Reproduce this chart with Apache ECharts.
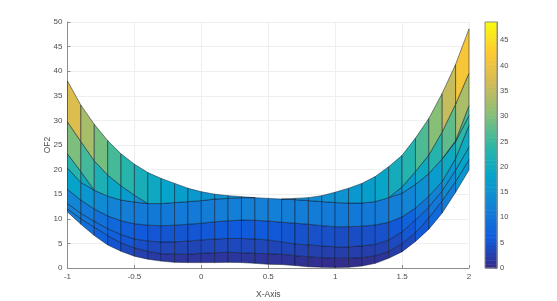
<!DOCTYPE html>
<html><head><meta charset="utf-8">
<style>html,body{margin:0;padding:0;background:#fff}#c{width:557px;height:301px}</style>
<script src="https://cdn.jsdelivr.net/npm/echarts@6/dist/echarts.min.js"></script>
</head><body><div id="c"></div>
<script>
const xValues = [-1,-0.9,-0.8,-0.7,-0.6,-0.5,-0.4,-0.3,-0.2,-0.1,0,0.1,0.2,0.3,0.4,0.5,0.6,0.7,0.8,0.9,1,1.1,1.2,1.3,1.4,1.5,1.6,1.7,1.8,1.9,2];
const row0 = [11.4,8.9,6.6,4.7,3.4,2.4,1.8,1.4,1.15,1.1, 1.1,1.1,1.15,1.1,0.95,0.75,0.7,0.5,0.25,0.15, 0.1,0.15,0.4,0.95,2,3.3,5.4,7.9,11.2,15.4,19.9];
const row1 = [12,10,8.3,6.6,5.1,4.1,3.4,2.9,2.8,2.8, 3,3.1,3.2,3.1,3,2.9,2.8,2.5,2.3,2.1, 2,2,2.1,2.5,3.4,5,7.2,10.2,13.7,17.6,22];
const row2 = [13.1,11.1,9.5,8,6.8,5.9,5.5,5.3,5.3,5.5, 5.7,5.9,6,6,5.9,5.7,5.3,4.9,4.7,4.5, 4.3,4.3,4.5,4.8,5.7,7.4,9.8,12.4,15.7,19.9,24.6];
const row3 = [16,13.8,12,10.6,9.6,9,8.7,8.6,8.7,8.9, 9.1,9.4,9.6,9.75,9.7,9.55,9.3,9.1,8.9,8.6, 8.4,8.4,8.5,8.75,9.3,10.4,12.2,14.6,17.6,22.3,29];
const row4 = [20.3,17.4,15.8,14.6,13.8,13.4,13.1,13.1,13.3,13.5, 13.7,14,14.15,14.3,14.3,14.15,14,13.9,13.7,13.5, 13.3,13.2,13.2,13.5,14.3,15.2,17,19.2,22.2,25.7,31];
const row5 = [23.2,19.6,15.8,14.6,13.8,13.4,13.1,13.1,13.3,13.5, 13.7,14,14.15,14.3,14.3,14.15,14,13.9,13.7,13.5, 13.3,13.2,13.2,13.5,14.3,15.2,17,19.2,22.2,25.9,33];
const row6 = [29.7,25.7,21.8,18.9,16.7,14.8,13.1,13.1,13.3,13.5, 13.7,14,14.15,14.3,14.3,14.15,14,13.9,13.7,13.5, 13.3,13.2,13.2,13.5,14.3,16.5,19.6,23,27.7,33.3,39.6];
const row7 = [38,33.1,29.2,25.9,23.2,21.1,19.4,18.2,17.2,16.2, 15.5,15,14.7,14.5,14.3,14.15,14,14.15,14.3,14.7, 15.4,16.2,17.2,18.6,20.6,22.9,26.4,30.4,35.5,41.4,48.6];
const rows = [row0,row1,row2,row3,row4,row5,row6,row7];
const colorMax = 48.6;
const parula = ['#352a87','#0f5cdd','#1481d6','#06a4ca','#2eb7a4','#87bf77','#d1bb59','#fec832','#f9fb0e'];
const bandWeight = [0.2,0.2,0,0.5,1,1,1];

function hex(c){return [1,3,5].map(i=>parseInt(c.substr(i,2),16));}
function colorOf(v){
  const t=Math.max(0,Math.min(1,v/colorMax))*(parula.length-1);
  const i=Math.min(parula.length-2,Math.floor(t)),f=t-i;
  const a=hex(parula[i]),b=hex(parula[i+1]);
  return 'rgb('+a.map((p,k)=>Math.round(p+(b[k]-p)*f)).join(',')+')';
}
const cells=[];
for(let r=0;r<rows.length-1;r++)for(let i=0;i<xValues.length-1;i++){
  if(rows[r][i]===rows[r+1][i]&&rows[r][i+1]===rows[r+1][i+1])continue;
  cells.push([i,r]);
}
const levels=64, barCells=[];
for(let k=0;k<levels;k++)barCells.push([k]);
const font='"Liberation Sans",Arial,sans-serif', txt='#4d4d4d', axisC='#8c8c8c', gridC='#efefef';

const chart=echarts.init(document.getElementById('c'),null,{renderer:'canvas'});
chart.setOption({
  animation:false,
  grid:[{left:67.5,top:22,width:401.5,height:246,show:false,outerBoundsMode:'none'},{left:485,top:22,width:12,height:246,show:false,outerBoundsMode:'none'}],
  xAxis:[{type:'value',gridIndex:0,min:-1,max:2,interval:0.5,name:'X-Axis',nameLocation:'middle',nameGap:22,nameMoveOverlap:false,
      nameTextStyle:{color:txt,fontFamily:font,fontSize:8.5},
      axisLine:{onZero:false,lineStyle:{color:axisC,width:1}},axisTick:{inside:true,length:3,lineStyle:{color:axisC}},
      axisLabel:{color:txt,fontFamily:font,fontSize:8,margin:5,formatter:v=>String(v),hideOverlap:false,showMinLabel:true,showMaxLabel:true},
      splitLine:{show:true,lineStyle:{color:gridC,width:1}}},
    {type:'value',gridIndex:1,min:0,max:1,show:false}],
  yAxis:[{type:'value',gridIndex:0,min:0,max:50,interval:5,name:'OF2',nameLocation:'middle',nameGap:15,nameMoveOverlap:false,
      nameTextStyle:{color:txt,fontFamily:font,fontSize:8.5},
      axisLine:{show:true,onZero:false,lineStyle:{color:axisC,width:1}},axisTick:{show:true,inside:true,length:3,lineStyle:{color:axisC}},
      axisLabel:{color:txt,fontFamily:font,fontSize:8,margin:5},
      splitLine:{show:true,lineStyle:{color:gridC,width:1}}},
    {type:'value',gridIndex:1,position:'right',min:0,max:colorMax,interval:5,
      axisLine:{show:true,onZero:false,lineStyle:{color:axisC}},axisTick:{show:true,inside:true,length:2,lineStyle:{color:'#666'}},
      axisLabel:{color:txt,fontFamily:font,fontSize:7.5,margin:3,showMaxLabel:false},splitLine:{show:false}}],
  series:[{
    type:'custom',xAxisIndex:0,yAxisIndex:0,coordinateSystem:'cartesian2d',clip:false,
    data:cells,encode:{x:0,y:1},z:3,
    renderItem:(p,api)=>{
      const i=api.value(0),r=api.value(1);
      const pts=[[i,r],[i+1,r],[i+1,r+1],[i,r+1]].map(q=>api.coord([xValues[q[0]],rows[q[1]][q[0]]]));
      const v=rows[r][i]+bandWeight[r]*(rows[r+1][i]-rows[r][i]);
      return {type:'polygon',shape:{points:pts},style:{fill:colorOf(v),stroke:'rgba(10,20,40,0.62)',lineWidth:0.8}};
    }
  },{
    type:'custom',xAxisIndex:1,yAxisIndex:1,coordinateSystem:'cartesian2d',data:barCells,encode:{y:0},z:3,
    renderItem:(p,api)=>{
      const k=api.value(0);
      const a=api.coord([0,k/levels*colorMax]),b=api.coord([1,(k+1)/levels*colorMax]);
      return {type:'rect',shape:{x:a[0],y:b[1],width:b[0]-a[0],height:a[1]-b[1]+0.5},
        style:{fill:colorOf((k+0.5)/levels*colorMax)}};
    }
  }],
  graphic:[{type:'rect',silent:true,z:10,shape:{x:485,y:22,width:12,height:246},style:{fill:'none',stroke:axisC,lineWidth:1}}]
});
</script></body></html>
